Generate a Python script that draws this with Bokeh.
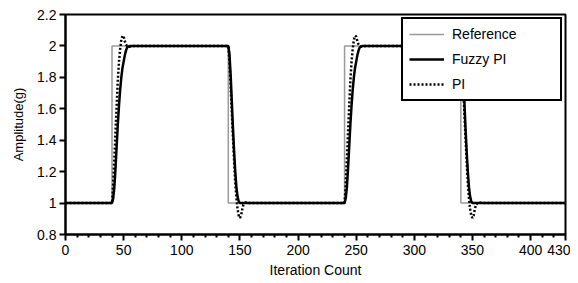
from bokeh.plotting import figure
from bokeh.models import Range1d, FixedTicker, CustomJSTickFormatter, Legend, LegendItem
from bokeh.embed import file_html
from bokeh.resources import INLINE

# ---- data ----
ref_x = [0, 40, 40, 140, 140, 240, 240, 340, 340, 430]
ref_y = [1.0, 1.0, 2.0, 2.0, 1.0, 1.0, 2.0, 2.0, 1.0, 1.0]

fuzzy_x = [0, 40, 41, 42, 43, 44, 45, 46, 47, 48, 49, 50, 51, 52, 53, 55,
           140, 141, 142, 143, 144, 145, 146, 147, 148, 149, 150, 152,
           240, 241, 242, 243, 244, 245, 246, 247, 248, 249, 250, 251, 252, 253, 255,
           340, 341, 342, 343, 344, 345, 346, 347, 348, 349, 350, 352, 430]
fuzzy_y = [1.0, 1.0, 1.03, 1.1, 1.22, 1.36, 1.5, 1.62, 1.72, 1.8, 1.86, 1.9, 1.94, 1.97, 1.99, 2.0,
           2.0, 1.95, 1.82, 1.65, 1.48, 1.33, 1.2, 1.1, 1.04, 1.01, 1.0, 1.0,
           1.0, 1.03, 1.1, 1.22, 1.36, 1.5, 1.62, 1.72, 1.8, 1.86, 1.9, 1.94, 1.97, 1.99, 2.0,
           2.0, 1.95, 1.82, 1.65, 1.48, 1.33, 1.2, 1.1, 1.04, 1.01, 1.0, 1.0, 1.0]

pi_x = [0, 40, 41, 42, 43, 44, 45, 46, 47, 48, 49, 50, 51, 52, 53, 55, 58,
        140, 141, 142, 143, 144, 145, 146, 147, 148, 149, 150, 151, 152, 153, 155, 158,
        240, 241, 242, 243, 244, 245, 246, 247, 248, 249, 250, 251, 252, 253, 255, 258,
        340, 341, 342, 343, 344, 345, 346, 347, 348, 349, 350, 351, 352, 353, 355, 358, 430]
pi_y = [1.0, 1.0, 1.12, 1.28, 1.45, 1.62, 1.78, 1.9, 1.98, 2.04, 2.065, 2.06, 2.03, 2.01, 2.0, 1.995, 2.0,
        2.0, 1.9, 1.75, 1.58, 1.42, 1.27, 1.13, 1.03, 0.96, 0.92, 0.905, 0.92, 0.96, 0.99, 1.005, 1.0,
        1.0, 1.12, 1.28, 1.45, 1.62, 1.78, 1.9, 1.98, 2.04, 2.065, 2.06, 2.03, 2.01, 2.0, 1.995, 2.0,
        2.0, 1.9, 1.75, 1.58, 1.42, 1.27, 1.13, 1.03, 0.96, 0.92, 0.905, 0.92, 0.96, 0.99, 1.005, 1.0, 1.0]

x_major = [0, 50, 100, 150, 200, 250, 300, 350, 400, 430]
x_minor = [10, 20, 30, 40, 60, 70, 80, 90, 110, 120, 130, 140, 160, 170, 180, 190,
           210, 220, 230, 240, 260, 270, 280, 290, 310, 320, 330, 340, 360, 370, 380, 390, 410, 420]
y_major = [0.8, 1.0, 1.2, 1.4, 1.6, 1.8, 2.0, 2.2]

FONT = "Liberation Sans"

p = figure(width=570, height=280, output_backend="svg", toolbar_location=None,
           x_range=Range1d(0, 430), y_range=Range1d(0.8, 2.2))
p.min_border_left = 65
p.min_border_right = 5
p.min_border_top = 14
p.min_border_bottom = 46
p.xgrid.visible = False
p.ygrid.visible = False
p.outline_line_color = "black"
p.outline_line_width = 2
p.background_fill_color = "white"
p.border_fill_color = "white"

r_ref = p.line(ref_x, ref_y, line_color="#9a9a9a", line_width=1.5)
r_fz = p.line(fuzzy_x, fuzzy_y, line_color="black", line_width=2.5)
r_pi = p.line(pi_x, pi_y, line_color="black", line_width=2.5, line_dash="2 2")

p.xaxis.ticker = FixedTicker(ticks=x_major, minor_ticks=x_minor)
p.yaxis.ticker = FixedTicker(ticks=y_major, minor_ticks=[])
p.yaxis.formatter = CustomJSTickFormatter(code="return Number(tick.toFixed(1)).toString();")

for ax in (p.xaxis[0], p.yaxis[0]):
    ax.axis_line_width = 2
    ax.axis_line_color = "black"
    ax.major_tick_line_width = 2
    ax.major_tick_line_color = "black"
    ax.major_tick_out = 6
    ax.major_tick_in = 0
    ax.minor_tick_line_width = 2
    ax.minor_tick_line_color = "black"
    ax.minor_tick_out = 3
    ax.minor_tick_in = 0
    ax.major_label_text_font = FONT
    ax.major_label_text_font_size = "14px"
    ax.major_label_text_color = "black"
    ax.axis_label_text_font = FONT
    ax.axis_label_text_font_style = "normal"
    ax.axis_label_text_color = "black"

p.xaxis.axis_label = "Iteration Count"
p.xaxis.axis_label_text_font_size = "14px"
p.xaxis.axis_label_standoff = 4
p.xaxis.major_label_standoff = 4
p.yaxis.axis_label = "Amplitude(g)"
p.yaxis.axis_label_text_font_size = "13px"
p.yaxis.axis_label_standoff = 8
p.yaxis.major_label_standoff = 3

legend = Legend(items=[LegendItem(label="Reference", renderers=[r_ref]),
                       LegendItem(label="Fuzzy PI", renderers=[r_fz]),
                       LegendItem(label="PI", renderers=[r_pi])],
                location="top_right")
legend.margin = 3
legend.padding = 6
legend.spacing = 7
legend.glyph_width = 35
legend.glyph_height = 18
legend.label_height = 18
legend.label_width = 102
legend.label_standoff = 8
legend.label_text_font = FONT
legend.label_text_font_size = "14px"
legend.label_text_color = "black"
legend.border_line_color = "black"
legend.border_line_alpha = 1.0
legend.border_line_width = 2.5
legend.background_fill_color = "white"
legend.background_fill_alpha = 1.0
p.add_layout(legend)

open("out.html", "w").write(file_html(p, INLINE))
